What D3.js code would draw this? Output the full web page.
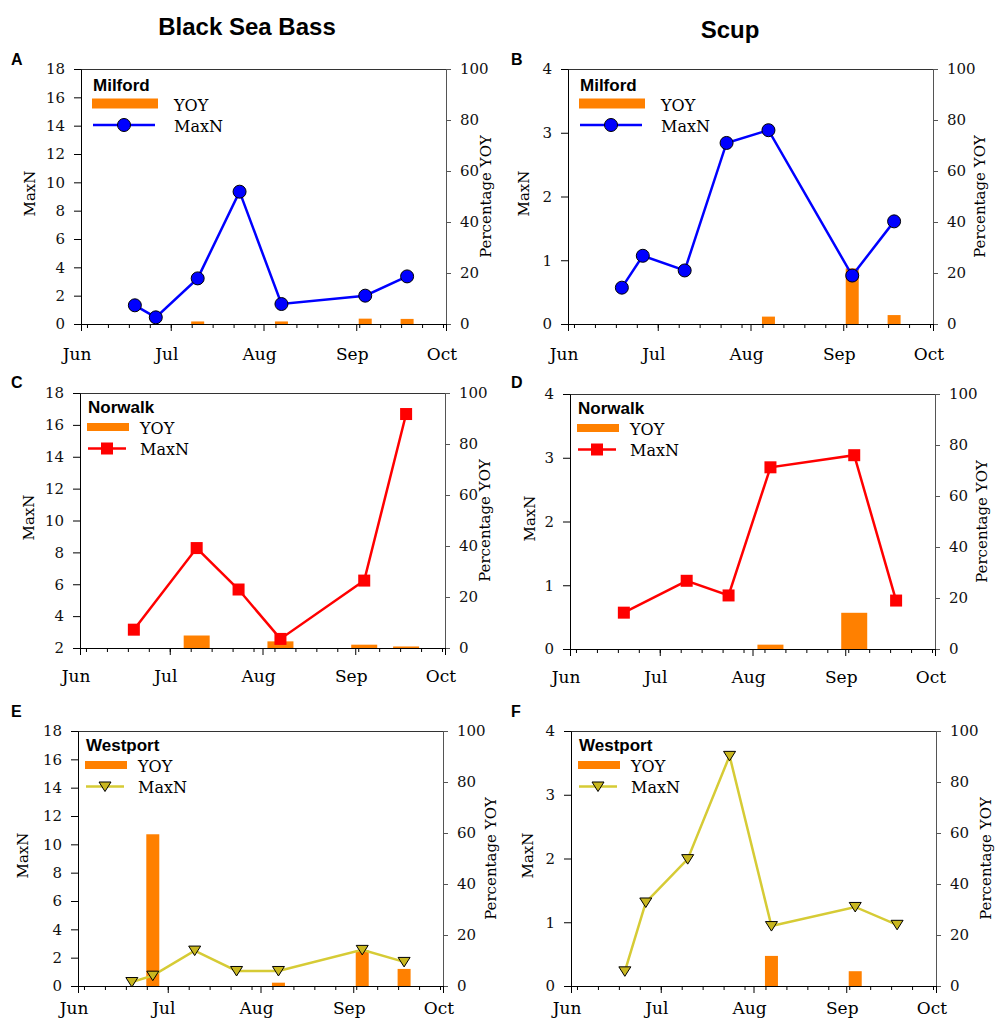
<!DOCTYPE html>
<html>
<head>
<meta charset="utf-8">
<script src="https://cdn.jsdelivr.net/npm/d3@7"></script>
<style>
  body { margin: 0; background: #fff; }
</style>
</head>
<body>
<script>
// sampling days (all Wednesdays, 2013)
const sampleDays = ["2013-06-19", "2013-06-26", "2013-07-10", "2013-07-24", "2013-08-07", "2013-09-04", "2013-09-18"];
const norwalkDays = ["2013-06-19", "2013-07-10", "2013-07-24", "2013-08-07", "2013-09-04", "2013-09-18"];

// Black Sea Bass
const bsbMilfordMaxN = [1.32, 0.47, 3.22, 9.34, 1.41, 2.0, 3.36];
const bsbMilfordYoy = [0, 0, 1.0, 0, 1.0, 2.1, 2.0];
const bsbNorwalkMaxN = [3.15, 8.27, 5.67, 2.57, 6.23, 16.68];
const bsbNorwalkYoy = [0, 4.9, 0, 2.6, 1.3, 0.6];
const bsbWestportMaxN = [0.28, 0.73, 2.5, 1.06, 1.06, 2.55, 1.7];
const bsbWestportYoy = [0, 59.5, 0, 0, 1.3, 14.0, 6.7];

// Scup
const scupMilfordMaxN = [0.57, 1.07, 0.84, 2.84, 3.04, 0.76, 1.61];
const scupMilfordYoy = [0, 0, 0, 0, 2.9, 21.8, 3.5];
const scupNorwalkMaxN = [0.57, 1.07, 0.84, 2.85, 3.04, 0.76];
const scupNorwalkYoy = [0, 0, 0, 1.7, 14.2, 0];
const scupWestportMaxN = [0.23, 1.31, 1.99, 3.61, 0.94, 1.24, 0.96];
const scupWestportYoy = [0, 0, 0, 0, 11.8, 5.8, 0];

const bsbTicks = [0, 2, 4, 6, 8, 10, 12, 14, 16, 18];
const bsbNorwalkTicks = [2, 4, 6, 8, 10, 12, 14, 16, 18];
const scupTicks = [0, 1, 2, 3, 4];
const yoyTicks = [0, 20, 40, 60, 80, 100];

const parse = d3.timeParse("%Y-%m-%d");
const serif = "'DejaVu Serif', serif";
const sans = "'Liberation Sans', Arial, sans-serif";
const orange = "#ff8000";

const svg = d3.select("body").append("svg")
    .attr("width", 1000)
    .attr("height", 1020);

svg.append("text").attr("x", 247).attr("y", 34.5).attr("text-anchor", "middle")
    .style("font-family", sans).style("font-weight", "bold").style("font-size", "24px")
    .text("Black Sea Bass");
svg.append("text").attr("x", 730).attr("y", 37.5).attr("text-anchor", "middle")
    .style("font-family", sans).style("font-weight", "bold").style("font-size", "24px")
    .text("Scup");

let panels = [
    {id: "A", x: 81, y: 69, ly: 65, site: "Milford", days: sampleDays, maxN: bsbMilfordMaxN, yoy: bsbMilfordYoy,
        domain: [0, 18], ticks: bsbTicks, marker: "circle", color: "#0000ff", wide: true, barW: 13, lab: 46, rlab: 45, my: 36},
    {id: "B", x: 568, y: 69, ly: 65, site: "Milford", days: sampleDays, maxN: scupMilfordMaxN, yoy: scupMilfordYoy,
        domain: [0, 4], ticks: scupTicks, marker: "circle", color: "#0000ff", wide: true, barW: 13, lab: 39, rlab: 52, my: 36},
    {id: "C", x: 80, y: 393, ly: 388, site: "Norwalk", days: norwalkDays, maxN: bsbNorwalkMaxN, yoy: bsbNorwalkYoy,
        domain: [2, 18], ticks: bsbNorwalkTicks, marker: "square", color: "#ff0000", wide: false, barW: 26, lab: 46, rlab: 45, my: 34},
    {id: "D", x: 570, y: 394, ly: 388, site: "Norwalk", days: norwalkDays, maxN: scupNorwalkMaxN, yoy: scupNorwalkYoy,
        domain: [0, 4], ticks: scupTicks, marker: "square", color: "#ff0000", wide: false, barW: 26, lab: 35, rlab: 52, my: 34},
    {id: "E", x: 78, y: 731, ly: 717, site: "Westport", days: sampleDays, maxN: bsbWestportMaxN, yoy: bsbWestportYoy,
        domain: [0, 18], ticks: bsbTicks, marker: "triangle", color: "#d6cb35", wide: false, barW: 13, lab: 50, rlab: 53, my: 28},
    {id: "F", x: 571, y: 731, ly: 717, site: "Westport", days: sampleDays, maxN: scupWestportMaxN, yoy: scupWestportYoy,
        domain: [0, 4], ticks: scupTicks, marker: "triangle", color: "#d6cb35", wide: false, barW: 13, lab: 38, rlab: 55, my: 28}
];

const W = 365, H = 255;

function drawMarker(g, type, cx, cy, color) {
    if (type === "circle") {
        g.append("circle").attr("cx", cx).attr("cy", cy).attr("r", 6.5)
            .attr("fill", color).attr("stroke", "#000").attr("stroke-width", 1);
    } else if (type === "square") {
        g.append("rect").attr("x", cx - 6).attr("y", cy - 6).attr("width", 12).attr("height", 12)
            .attr("fill", color);
    } else {
        g.append("path")
            .attr("d", "M" + (cx - 6) + "," + (cy - 4.5) + "L" + (cx + 6) + "," + (cy - 4.5) + "L" + cx + "," + (cy + 5) + "Z")
            .attr("fill", "#c9b71f").attr("stroke", "#000").attr("stroke-width", 1);
    }
}

panels.forEach(function (p) {
    let g = svg.append("g").attr("transform", "translate(" + p.x + "," + p.y + ")");
    let xScale = d3.scaleTime()
        .domain([new Date(2013, 5, 1), new Date(2013, 9, 1)])
        .range([0, W]);
    let yScale = d3.scaleLinear().domain(p.domain).range([H, 0]);
    let yoyScale = d3.scaleLinear().domain([0, 100]).range([H, 0]);
    let dates = p.days.map(parse);

    // panel letter
    svg.append("text").attr("x", p.x < 300 ? 11 : 511).attr("y", p.ly)
        .style("font-family", sans).style("font-weight", "bold").style("font-size", "16px")
        .text(p.id);

    // YOY bars
    g.selectAll(".bar").data(p.yoy).enter().append("rect")
        .attr("x", (d, i) => xScale(dates[i]) - p.barW / 2)
        .attr("y", d => yoyScale(d))
        .attr("width", p.barW)
        .attr("height", d => H - yoyScale(d))
        .attr("fill", orange);

    // top frame
    g.append("line").attr("x1", 0).attr("x2", W).attr("y1", 0.5).attr("y2", 0.5)
        .attr("stroke", "#333").attr("stroke-width", 1);

    // left axis
    let left = g.append("g").call(d3.axisLeft(yScale).tickValues(p.ticks).tickFormat(d3.format("d"))
        .tickSize(7).tickPadding(9).tickSizeOuter(0));
    // right axis
    let right = g.append("g").attr("transform", "translate(" + W + ",0)")
        .call(d3.axisRight(yoyScale).tickValues(yoyTicks).tickFormat(d3.format("d"))
            .tickSize(5).tickPadding(9).tickSizeOuter(0));
    right.select(".domain").attr("stroke", "#555");
    right.selectAll(".tick line").attr("stroke", "#555");

    // bottom axis: weekly minor ticks and monthly major ticks
    g.append("g").attr("transform", "translate(0," + H + ")")
        .call(d3.axisBottom(xScale).ticks(d3.timeMonday.every(1)).tickSize(4).tickFormat("").tickSizeOuter(0));
    let months = g.append("g").attr("transform", "translate(0," + H + ")")
        .call(d3.axisBottom(xScale).ticks(d3.timeMonth.every(1)).tickSize(7).tickFormat(d3.timeFormat("%b")).tickSizeOuter(0));
    months.select(".domain").remove();
    months.selectAll(".tick text").attr("y", p.my).attr("dy", 0).attr("dx", -4.5)
        .style("font-family", serif).style("font-size", "17px");

    [left, right].forEach(function (a) {
        a.selectAll(".tick text").style("font-family", serif).style("font-size", "15px").attr("fill", "#111");
    });

    // axis titles
    g.append("text").attr("transform", "translate(" + (-p.lab) + "," + (H / 2 - 3) + ") rotate(-90)")
        .attr("text-anchor", "middle")
        .style("font-family", serif).style("font-size", "15px")
        .text("MaxN");
    g.append("text").attr("transform", "translate(" + (W + p.rlab) + "," + (H / 2) + ") rotate(-90)")
        .attr("text-anchor", "middle")
        .style("font-family", serif).style("font-size", "15px")
        .text("Percentage YOY");

    // MaxN line
    let line = d3.line()
        .x((d, i) => xScale(dates[i]))
        .y(d => yScale(d));
    g.append("path").datum(p.maxN)
        .attr("d", line)
        .attr("fill", "none")
        .attr("stroke", p.color)
        .attr("stroke-width", 2.5);
    p.maxN.forEach(function (d, i) {
        drawMarker(g, p.marker, xScale(dates[i]), yScale(d), p.color);
    });

    // legend
    let lg = g.append("g");
    let lx = p.wide ? 12 : 8;
    let sw = p.wide ? 66 : 42;
    let tx = p.wide ? 93 : 60;
    lg.append("text").attr("x", lx).attr("y", p.wide ? 22 : 20)
        .style("font-family", sans).style("font-weight", "bold").style("font-size", "17px")
        .text(p.site);
    lg.append("rect").attr("x", lx - 1).attr("y", p.wide ? 29.5 : 30)
        .attr("width", sw).attr("height", p.wide ? 10 : 8).attr("fill", orange);
    lg.append("text").attr("x", tx).attr("y", p.wide ? 42 : 40.5)
        .style("font-family", serif).style("font-size", "16px").text("YOY");
    let ly = p.wide ? 56 : 55.5;
    lg.append("line").attr("x1", lx).attr("x2", lx + sw - 4).attr("y1", ly).attr("y2", ly)
        .attr("stroke", p.color).attr("stroke-width", 2.5);
    drawMarker(lg, p.marker, lx + (sw - 4) / 2, ly, p.color);
    lg.append("text").attr("x", tx).attr("y", p.wide ? 63 : 62)
        .style("font-family", serif).style("font-size", "16px").text("MaxN");
});
</script>
</body>
</html>
